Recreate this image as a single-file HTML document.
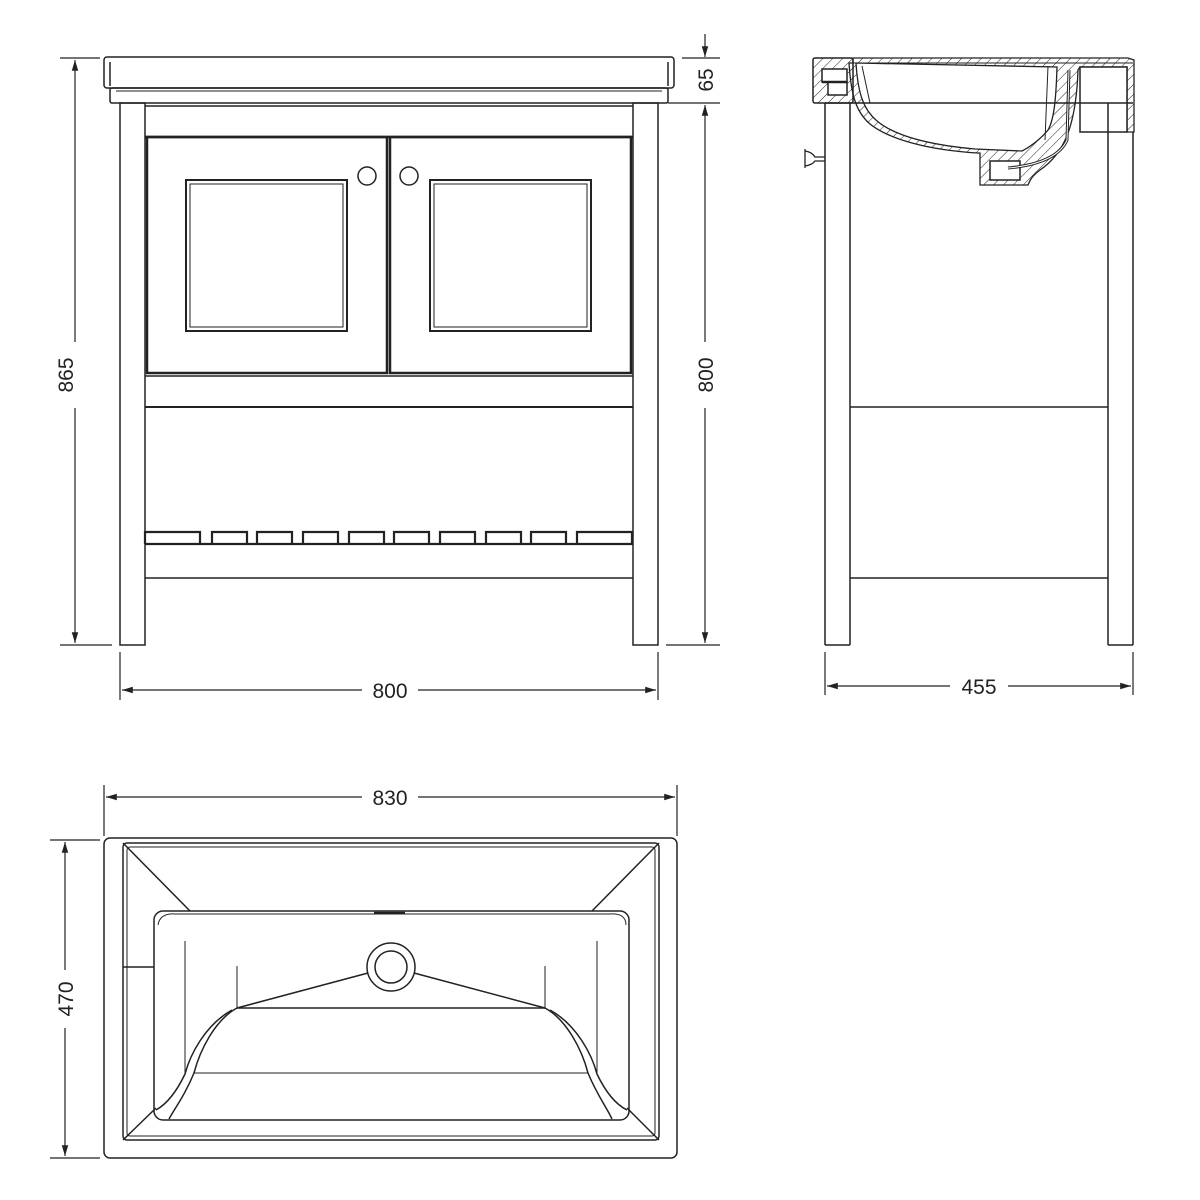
<!DOCTYPE html>
<html><head><meta charset="utf-8"><style>
html,body{margin:0;padding:0;background:#fff}
svg{display:block}
text{font-family:"Liberation Sans",sans-serif;font-size:21px;fill:#222}
</style></head><body>
<svg width="1200" height="1200" viewBox="0 0 1200 1200" xmlns="http://www.w3.org/2000/svg">
<defs>
<marker id="a" viewBox="0 0 10 10" refX="10" refY="5" markerWidth="9" markerHeight="9" orient="auto-start-reverse"><path d="M0,2 L10,5 L0,8 z" fill="#222"/></marker>
<pattern id="h" width="7" height="7" patternUnits="userSpaceOnUse" patternTransform="rotate(45)"><line x1="0" y1="0" x2="0" y2="7" stroke="#222" stroke-width="1"/></pattern>
</defs>
<g fill="none" stroke="#222" stroke-width="1.5">
<!-- FRONT VIEW -->
<rect x="104" y="57" width="570" height="31" rx="3"/>
<line x1="110" y1="62" x2="110" y2="86"/><line x1="668" y1="62" x2="668" y2="86"/>
<rect x="110" y="88" width="558" height="15" rx="2"/>
<line x1="116" y1="91" x2="662" y2="91" stroke-width="1"/>
<rect x="120" y="103" width="25" height="542"/>
<rect x="633" y="103" width="25" height="542"/>
<line x1="145" y1="106" x2="633" y2="106"/>
<line x1="145" y1="137" x2="633" y2="137" stroke-width="2.5"/>
<rect x="147" y="137" width="240" height="236" stroke-width="2.5"/>
<rect x="390" y="137" width="241" height="236" stroke-width="2.5"/>
<rect x="186" y="180" width="161" height="151" stroke-width="2"/>
<rect x="190" y="184" width="153" height="143" stroke-width="1"/>
<rect x="430" y="180" width="161" height="151" stroke-width="2"/>
<rect x="434" y="184" width="153" height="143" stroke-width="1"/>
<circle cx="367" cy="176" r="9"/><circle cx="409" cy="176" r="9"/>
<line x1="145" y1="376" x2="633" y2="376"/>
<line x1="145" y1="407" x2="633" y2="407" stroke-width="2"/>
<g stroke-width="2.2">
<path d="M145,544 V532 H200 V544 M212,544 V532 H247 V544 M257,544 V532 H292 V544 M303,544 V532 H338 V544 M349,544 V532 H384 V544 M394,544 V532 H429 V544 M440,544 V532 H475 V544 M486,544 V532 H521 V544 M531,544 V532 H566 V544 M577,544 V532 H632 V544"/>
<line x1="145" y1="544" x2="633" y2="544"/>
</g>
<line x1="145" y1="578" x2="633" y2="578"/>
<!-- front dims -->
<line x1="60" y1="58" x2="100" y2="58" stroke-width="1.2"/>
<line x1="60" y1="645" x2="112" y2="645" stroke-width="1.2"/>
<line x1="75" y1="60" x2="75" y2="342" stroke-width="1.2" marker-start="url(#a)"/>
<line x1="75" y1="408" x2="75" y2="643" stroke-width="1.2" marker-end="url(#a)"/>
<line x1="682" y1="58" x2="720" y2="58" stroke-width="1.2"/>
<line x1="668" y1="103" x2="720" y2="103" stroke-width="1.2"/>
<line x1="666" y1="645" x2="720" y2="645" stroke-width="1.2"/>
<line x1="705" y1="34" x2="705" y2="57" stroke-width="1.2" marker-end="url(#a)"/>
<line x1="705" y1="105" x2="705" y2="342" stroke-width="1.2" marker-start="url(#a)"/>
<line x1="705" y1="408" x2="705" y2="643" stroke-width="1.2" marker-end="url(#a)"/>
<line x1="120" y1="652" x2="120" y2="700" stroke-width="1.2"/>
<line x1="658" y1="652" x2="658" y2="700" stroke-width="1.2"/>
<line x1="122" y1="690" x2="362" y2="690" stroke-width="1.2" marker-start="url(#a)"/>
<line x1="418" y1="690" x2="656" y2="690" stroke-width="1.2" marker-end="url(#a)"/>
<!-- SIDE VIEW -->
<rect x="813" y="58" width="40" height="45" rx="2" fill="url(#h)"/>
<rect x="822" y="69" width="25" height="13" fill="#fff"/>
<rect x="828" y="82" width="19" height="13" fill="#fff"/>
<line x1="822" y1="82" x2="847" y2="82" stroke-width="2.5"/>
<path d="M849,63 C851,95 856,112 870,124 C890,140 930,150 977,153 L980,153 V185 H1028 C1030,180 1032,176 1040,170 C1062,155 1076,130 1078,70 L1080,67 H1127 V132 H1134 V60 L1128,58 H853 V63 Z" fill="url(#h)" stroke-width="1.3"/>
<path d="M856,63 C858,95 864,110 877,121 C895,136 930,145 975,149 L1022,151 C1028,148 1040,140 1048,130 C1054,120 1056,100 1057,67 Z" fill="#fff" stroke-width="1.3"/>
<line x1="853" y1="63" x2="1133" y2="63" stroke-width="1"/>
<line x1="862" y1="66" x2="870" y2="103" stroke-width="1"/>
<line x1="1048" y1="66" x2="1045" y2="140" stroke-width="1"/>
<rect x="1080" y="67" width="47" height="65" fill="#fff"/>
<rect x="990" y="161" width="30" height="19" fill="#fff"/>
<path d="M1069,70 L1067,140 C1060,156 1040,165 1008,168" stroke-width="3"/>
<path d="M1069,70 L1067,140 C1060,156 1040,165 1008,168" stroke="#fff" stroke-width="1"/>
<path d="M805,149 V168 M805,151 Q812,152 815,157 H825 M805,166 Q812,165 815,161 H825" stroke-width="1.3"/>
<line x1="825" y1="103" x2="1133" y2="103"/>
<line x1="825" y1="103" x2="825" y2="645"/><line x1="850" y1="103" x2="850" y2="645"/>
<line x1="825" y1="645" x2="850" y2="645"/>
<line x1="1108" y1="103" x2="1108" y2="645"/><line x1="1133" y1="132" x2="1133" y2="645"/>
<line x1="1108" y1="645" x2="1133" y2="645"/>
<line x1="850" y1="407" x2="1108" y2="407"/>
<line x1="850" y1="578" x2="1108" y2="578"/>
<line x1="825" y1="652" x2="825" y2="695" stroke-width="1.2"/>
<line x1="1133" y1="652" x2="1133" y2="695" stroke-width="1.2"/>
<line x1="827" y1="686" x2="950" y2="686" stroke-width="1.2" marker-start="url(#a)"/>
<line x1="1008" y1="686" x2="1131" y2="686" stroke-width="1.2" marker-end="url(#a)"/>
<!-- TOP VIEW -->
<rect x="104" y="838" width="573" height="320" rx="6"/>
<rect x="123" y="843" width="536" height="297" rx="4"/>
<rect x="127" y="847" width="528" height="289" rx="3" stroke-width="1"/>
<rect x="154" y="911" width="475" height="209" rx="9"/>
<path d="M158,925 Q160,913 175,914 H610 Q626,913 626,925" stroke-width="1"/>
<line x1="123" y1="843" x2="190" y2="911"/>
<line x1="659" y1="843" x2="592" y2="911"/>
<line x1="123" y1="1140" x2="156" y2="1108"/>
<line x1="659" y1="1140" x2="627" y2="1108"/>
<line x1="123" y1="967" x2="154" y2="967"/>
<line x1="374" y1="913" x2="405" y2="913" stroke-width="2.5"/>
<circle cx="391" cy="967" r="24"/><circle cx="391" cy="967" r="16"/>
<line x1="368" y1="973" x2="237" y2="1008"/>
<line x1="414" y1="973" x2="545" y2="1008"/>
<line x1="237" y1="1008" x2="545" y2="1008"/>
<line x1="237" y1="966" x2="237" y2="1008" stroke-width="1"/>
<line x1="545" y1="966" x2="545" y2="1008" stroke-width="1"/>
<line x1="185" y1="941" x2="185" y2="1074" stroke-width="1"/>
<line x1="597" y1="941" x2="597" y2="1074" stroke-width="1"/>
<line x1="194" y1="1073" x2="588" y2="1073" stroke-width="1"/>
<path d="M237,1008 C215,1020 200,1050 194,1073 C185,1095 175,1108 169,1119"/>
<path d="M232,1010 C205,1025 190,1055 185,1074 C175,1095 165,1105 156,1110"/>
<path d="M545,1008 C567,1020 582,1050 588,1073 C597,1095 607,1108 612,1119"/>
<path d="M550,1010 C577,1025 592,1055 597,1074 C607,1095 617,1105 627,1110"/>
<line x1="104" y1="785" x2="104" y2="836" stroke-width="1.2"/>
<line x1="677" y1="785" x2="677" y2="836" stroke-width="1.2"/>
<line x1="106" y1="797" x2="362" y2="797" stroke-width="1.2" marker-start="url(#a)"/>
<line x1="418" y1="797" x2="675" y2="797" stroke-width="1.2" marker-end="url(#a)"/>
<line x1="50" y1="840" x2="100" y2="840" stroke-width="1.2"/>
<line x1="50" y1="1158" x2="100" y2="1158" stroke-width="1.2"/>
<line x1="65" y1="842" x2="65" y2="970" stroke-width="1.2" marker-start="url(#a)"/>
<line x1="65" y1="1028" x2="65" y2="1156" stroke-width="1.2" marker-end="url(#a)"/>
</g>
<text x="390" y="698" text-anchor="middle">800</text>
<text x="979" y="694" text-anchor="middle">455</text>
<text x="390" y="805" text-anchor="middle">830</text>
<text transform="translate(73,375) rotate(-90)" text-anchor="middle">865</text>
<text transform="translate(713,375) rotate(-90)" text-anchor="middle">800</text>
<text transform="translate(713,80) rotate(-90)" text-anchor="middle">65</text>
<text transform="translate(73,999) rotate(-90)" text-anchor="middle">470</text>
</svg>
</body></html>
